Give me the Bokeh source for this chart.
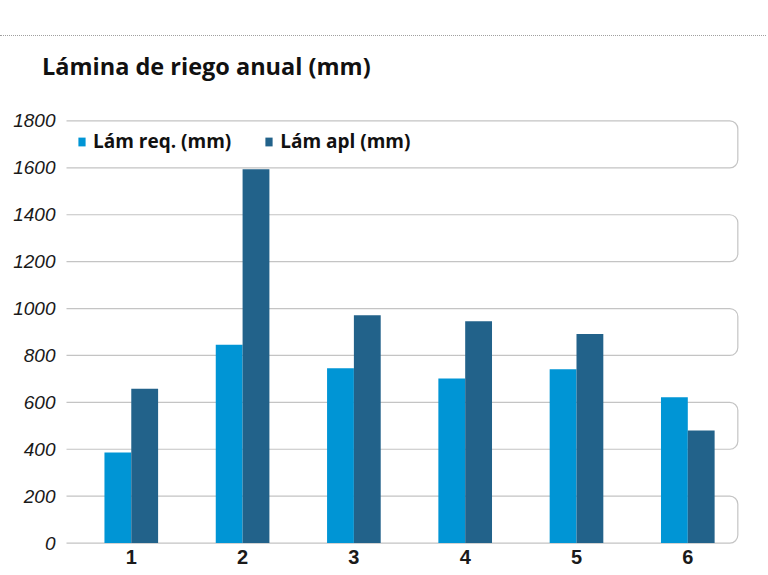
from bokeh.plotting import figure
from bokeh.models import (Range1d, FixedTicker, Legend, LegendItem, Div)
from bokeh.layouts import column
from bokeh.embed import file_html
from bokeh.resources import INLINE

# ---- data ----
categories = ["1", "2", "3", "4", "5", "6"]
lam_req = [386, 846, 745, 702, 741, 622]
lam_apl = [658, 1594, 971, 946, 891, 480]
y_ticks = [0, 200, 400, 600, 800, 1000, 1200, 1400, 1600, 1800]
series_names = ["Lám req. (mm)", "Lám apl (mm)"]
title_text = "Lámina de riego anual (mm)"

C_REQ = "#0095d5"
C_APL = "#22628a"
GRID = "#c4c4c4"

xs = list(range(1, len(categories) + 1))
bar_w = 0.241
off = 0.1205

HEAD_H = 100
x_start, x_end = 0.418, 6.4645
p = figure(width=760, height=572 - HEAD_H, output_backend="svg", toolbar_location=None,
           x_range=Range1d(x_start, x_end), y_range=Range1d(-6, 1806),
           min_border_left=66, min_border_right=21, min_border_top=119 - HEAD_H,
           min_border_bottom=28)
p.outline_line_color = None
p.background_fill_color = "white"
p.border_fill_color = "white"
p.xgrid.visible = False
p.ygrid.visible = False

# banded gridline boxes with rounded right corners
band_bottoms = y_ticks[0:-1:2]
band_tops = y_ticks[1::2]
box_right = x_end - 0.015
p.quad(left=[x_start - 0.2] * len(band_bottoms), right=[box_right] * len(band_bottoms),
       bottom=band_bottoms, top=band_tops, fill_color=None, line_color=GRID,
       line_width=1.2, border_radius=(0, 8, 8, 0))

r1 = p.vbar(x=[x - off for x in xs], top=lam_req, width=bar_w, bottom=0,
            fill_color=C_REQ, line_color=None)
r2 = p.vbar(x=[x + off for x in xs], top=lam_apl, width=bar_w, bottom=0,
            fill_color=C_APL, line_color=None)

# axes
p.xaxis.ticker = FixedTicker(ticks=xs)
p.xaxis.major_label_overrides = {x: c for x, c in zip(xs, categories)}
p.xaxis.major_label_text_font = "Liberation Sans"
p.xaxis.major_label_text_font_style = "bold"
p.xaxis.major_label_text_font_size = "20px"
p.xaxis.major_label_text_color = "#1a1a1a"
p.xaxis.major_label_standoff = 5
p.xaxis.axis_line_color = None
p.xaxis.major_tick_line_color = None
p.xaxis.minor_tick_line_color = None
p.xaxis.major_tick_out = 0
p.xaxis.major_tick_in = 0

p.yaxis.ticker = FixedTicker(ticks=y_ticks)
p.yaxis.major_label_text_font = "Liberation Sans"
p.yaxis.major_label_text_font_style = "italic"
p.yaxis.major_label_text_font_size = "19px"
p.yaxis.major_label_text_color = "#1a1a1a"
p.yaxis.major_label_standoff = 11
p.yaxis.axis_line_color = None
p.yaxis.major_tick_line_color = None
p.yaxis.minor_tick_line_color = None
p.yaxis.major_tick_out = 0
p.yaxis.major_tick_in = 0

# legend
legend = Legend(items=[LegendItem(label=series_names[0], renderers=[r1]),
                       LegendItem(label=series_names[1], renderers=[r2])],
                orientation="horizontal", location=(11, 390),
                glyph_width=9, glyph_height=11, label_standoff=7, spacing=33,
                padding=0, margin=0, label_height=26, label_text_font="Open Sans",
                label_text_font_style="bold", label_text_font_size="19px",
                label_text_color="#111111", background_fill_alpha=0,
                border_line_alpha=0)
p.add_layout(legend)

# page header: dotted rule and chart title
head_html = (
    '<div style="height:36px;width:766px;border-bottom:1px dotted #a0a0a0;'
    'box-sizing:border-box;"></div>'
    '<div style="margin:14px 0 0 42px;font-family:\'Open Sans\';font-weight:bold;'
    'font-size:23.5px;line-height:32px;color:#111111;white-space:nowrap;">'
    + title_text + '</div>'
)
head = Div(text=head_html, width=766, height=HEAD_H,
           styles={"margin": "0", "padding": "0"})

layout = column(head, p, spacing=0)
open("out.html", "w").write(file_html(layout, INLINE))
